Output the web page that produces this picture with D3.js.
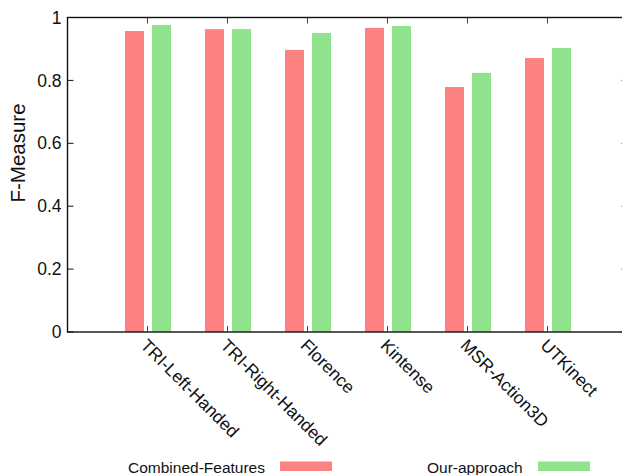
<!DOCTYPE html>
<html>
<head>
<meta charset="utf-8">
<script src="https://cdn.jsdelivr.net/npm/d3@7/dist/d3.min.js"></script>
<style>
  html, body { margin: 0; padding: 0; background: #fff; }
  svg { display: block; font-family: "Liberation Sans", Arial, Helvetica, sans-serif; }
</style>
</head>
<body>
<svg id="chart" width="622" height="475"></svg>
<script>
// Datasets and F-Measure scores for the two methods
const categories = ["TRI-Left-Handed", "TRI-Right-Handed", "Florence", "Kintense", "MSR-Action3D", "UTKinect"];
const combinedFeatures = [0.957, 0.963, 0.897, 0.967, 0.779, 0.871];
const ourApproach = [0.976, 0.963, 0.951, 0.973, 0.824, 0.903];
const seriesNames = ["Combined-Features", "Our-approach"];
const seriesColors = ["#fc8282", "#90e28c"];
const yTicks = [0, 0.2, 0.4, 0.6, 0.8, 1];

const svg = d3.select("#chart");

// Category index axis runs from -1 to 6; the right edge of the frame falls just past the page
const x = d3.scaleLinear().domain([-1, 6]).range([67.5, 627.5]);
const y = d3.scaleLinear().domain([0, 1]).range([332, 17.5]);

const barW = 19;
const series = [
  { name: seriesNames[0], values: combinedFeatures, color: seriesColors[0], offset: -22.5 },
  { name: seriesNames[1], values: ourApproach, color: seriesColors[1], offset: 4.5 }
];

// Bars
series.forEach(s => {
  svg.append("g")
    .selectAll("rect")
    .data(s.values)
    .join("rect")
    .attr("x", (d, i) => x(i) + s.offset)
    .attr("y", d => y(d))
    .attr("width", barW)
    .attr("height", d => y(0) - y(d))
    .attr("fill", s.color);
});

const tickLen = 6;
const frame = svg.append("g").attr("stroke", "#111").attr("fill", "none");

// Y ticks (left, inward) and mirrored ticks on the right border
yTicks.forEach(t => {
  frame.append("line")
    .attr("x1", x(-1)).attr("x2", x(-1) + tickLen)
    .attr("y1", y(t)).attr("y2", y(t))
    .attr("stroke-width", 1);
  frame.append("line")
    .attr("x1", x(6) - tickLen).attr("x2", x(6))
    .attr("y1", y(t)).attr("y2", y(t))
    .attr("stroke-width", 1);
});

// X ticks at category centres, bottom and top, pointing inward
categories.forEach((c, i) => {
  frame.append("line")
    .attr("x1", x(i)).attr("x2", x(i))
    .attr("y1", y(0)).attr("y2", y(0) - tickLen)
    .attr("stroke", "#444").attr("stroke-width", 1);
  frame.append("line")
    .attr("x1", x(i)).attr("x2", x(i))
    .attr("y1", y(1)).attr("y2", y(1) + tickLen)
    .attr("stroke", "#444").attr("stroke-width", 1);
});

// Border
frame.append("rect")
  .attr("x", x(-1)).attr("y", y(1))
  .attr("width", x(6) - x(-1)).attr("height", y(0) - y(1))
  .attr("stroke-width", 1.4);

// Y tick labels
svg.append("g")
  .selectAll("text")
  .data(yTicks)
  .join("text")
  .attr("x", 61.5)
  .attr("y", d => y(d))
  .attr("dy", "0.35em")
  .attr("text-anchor", "end")
  .attr("font-size", 17.5)
  .attr("fill", "#111")
  .text(d => d3.format("~g")(d));

// Y axis title
svg.append("text")
  .attr("transform", "translate(25,153) rotate(-90)")
  .attr("text-anchor", "middle")
  .attr("font-size", 20.5)
  .attr("fill", "#111")
  .text("F-Measure");

// Rotated category labels
svg.append("g")
  .selectAll("text")
  .data(categories)
  .join("text")
  .attr("transform", (d, i) => `translate(${x(i) - 8},346.5) rotate(45)`)
  .attr("text-anchor", "start")
  .attr("font-size", 17.5)
  .attr("fill", "#111")
  .text(d => d);

// Legend
const legendPos = [{ tx: 128, sx: 280 }, { tx: 427, sx: 538 }];
const legend = svg.append("g");
series.forEach((s, k) => {
  legend.append("text")
    .attr("x", legendPos[k].tx).attr("y", 472.5)
    .attr("font-size", 15.5)
    .attr("fill", "#111")
    .text(s.name);
  legend.append("rect")
    .attr("x", legendPos[k].sx).attr("y", 461.5)
    .attr("width", 52).attr("height", 9.5)
    .attr("fill", s.color);
});
</script>
</body>
</html>
